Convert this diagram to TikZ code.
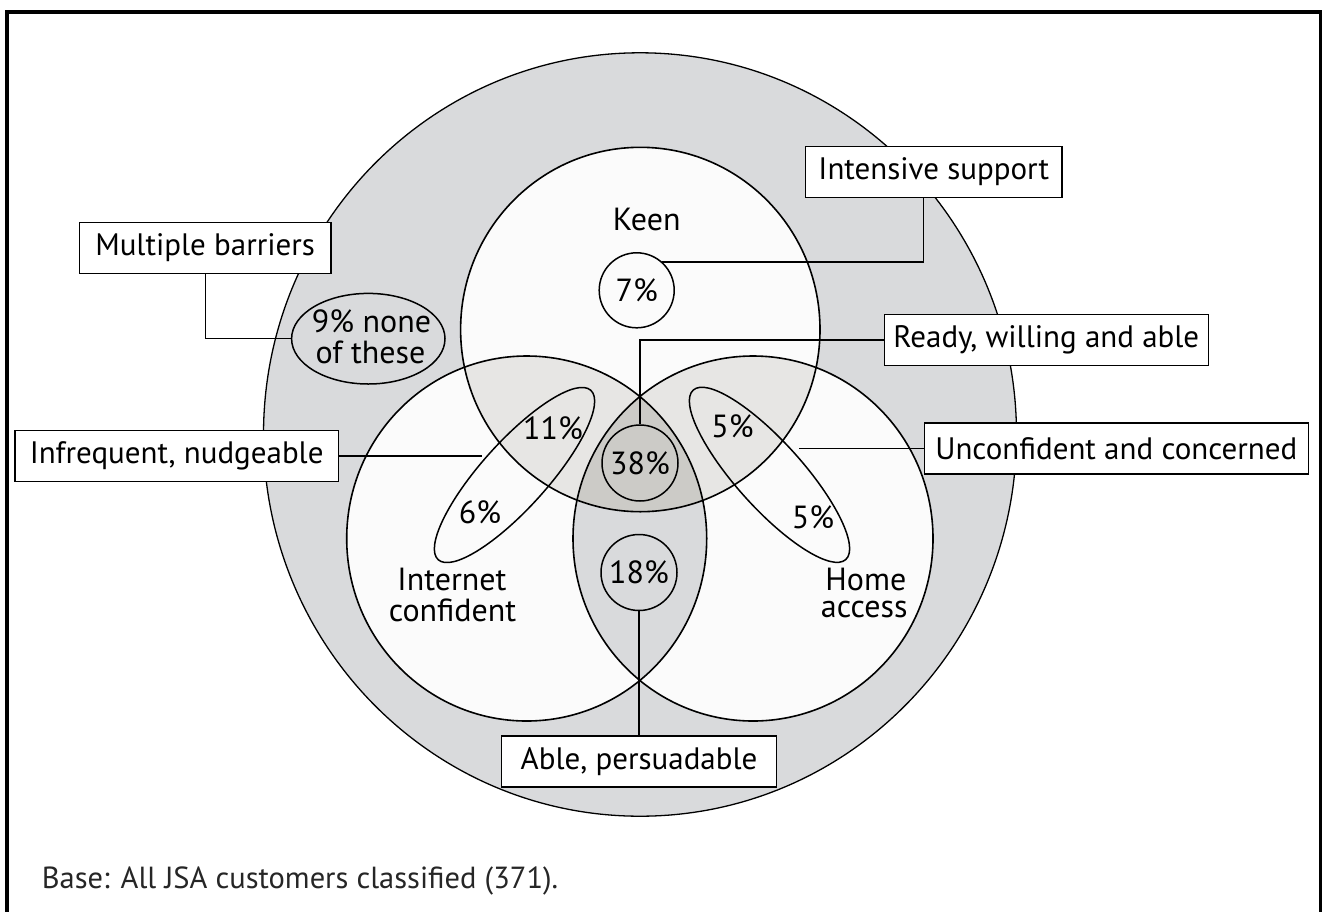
\documentclass[tikz,border=0pt]{standalone}
\usepackage{fontspec}
\setmainfont{PT Sans}
\usetikzlibrary{shapes.geometric}
\definecolor{outerg}{HTML}{D9DADC}
\definecolor{innerw}{HTML}{FBFBFB}
\definecolor{pairg}{HTML}{E7E6E4}
\definecolor{tripg}{HTML}{CCCBC7}
\begin{document}
\begin{tikzpicture}[x=1pt,y=-1pt,
  bigc/.style={insert path={(640,434.5) ellipse [x radius=376.5pt, y radius=381.7pt]}},
  keenc/.style={insert path={(640.3,329.5) ellipse [x radius=179.7pt, y radius=182.2pt]}},
  icc/.style={insert path={(526.7,538.5) ellipse [x radius=180pt, y radius=182.5pt]}},
  hac/.style={insert path={(753,538.5) ellipse [x radius=180pt, y radius=182.5pt]}},
  outl/.style={draw=black, line width=1.6pt},
  pc/.style={circle, draw=black, line width=1.5pt, inner sep=0pt, font=\fontsize{32}{38}\selectfont},
  ell/.style={ellipse, draw=black, line width=1.5pt, inner sep=0pt},
  lab/.style={inner sep=0pt, anchor=base, font=\fontsize{32}{38}\selectfont},
  lbox/.style={rectangle, draw=black, line width=1.5pt, fill=white, inner sep=0pt, minimum height=51pt, font=\fontsize{31}{37}\selectfont},
  conn/.style={draw=black, line width=1.3pt}
]
\useasboundingbox (0,0) rectangle (1322,911);
\fill[white] (0,0) rectangle (1322,911);
% frame
\draw[line width=4pt] (7,915) -- (7,11.5) -- (1320.5,11.5) -- (1320.5,915);
% big circle
\fill[outerg, bigc];
\draw[line width=1.3pt, bigc];
% inner circles
\fill[innerw, keenc];
\fill[innerw, icc];
\fill[innerw, hac];
\begin{scope}
  \clip[keenc];
  \fill[pairg, icc];
  \fill[pairg, hac];
\end{scope}
\begin{scope}
  \clip[icc];
  \fill[outerg, hac];
\end{scope}
\begin{scope}
  \clip[keenc];
  \clip[icc];
  \fill[tripg, hac];
\end{scope}
\path[outl, keenc];
\path[outl, icc];
\path[outl, hac];
% inner shapes
\node[pc, minimum size=75pt] (p7) at (636.7,290.3) {7\%};
\node[pc, minimum size=76pt] (p38) at (640,463) {38\%};
\node[pc, minimum size=76pt] (p18) at (639,572.5) {18\%};
\node[ell, minimum width=153.4pt, minimum height=90.6pt] (p9) at (368.3,338.7) {};
\node[ell, minimum width=228pt, minimum height=66pt, rotate=48] (lell) at (514.5,475) {};
\node[ell, minimum width=228pt, minimum height=66pt, rotate=-48] (rell) at (769.5,474.8) {};
% labels
\node[lab] (t9a) at (371.5,332.7) {9\% none};
\node[lab] (t9b) at (370.5,363.3) {of these};
\node[lab] (tkeen) at (646.7,230) {Keen};
\node[lab] (tint1) at (452,590) {Internet};
\node[lab] (tint2) at (452.5,621.7) {confident};
\node[lab] (thome1) at (865.8,590) {Home};
\node[lab] (thome2) at (864.2,617) {access};
\node[lab] (t11) at (553,439.3) {11\%};
\node[lab] (t6) at (480,523.3) {6\%};
\node[lab] (t5a) at (732.5,437.7) {5\%};
\node[lab] (t5b) at (813,528.3) {5\%};
% boxes
\node[lbox, minimum width=251.7pt] (mb) at (205.15,248) {Multiple barriers};
\node[lbox, minimum width=256.3pt] (is) at (933.85,172) {Intensive support};
\node[lbox, minimum width=324pt] (rw) at (1046.3,340) {Ready, willing and able};
\node[lbox, minimum width=323.3pt] (inf) at (176.65,455.85) {Infrequent, nudgeable};
\node[lbox, minimum width=384pt] (uc) at (1116.3,448.3) {Unconfident and concerned};
\node[lbox, minimum width=275.3pt] (ap) at (639,761.35) {Able, persuadable};
% connectors
\coordinate (infend) at (481.7,455.85);
\coordinate (ucend) at (799.3,448.3);
\draw[conn] ([xshift=-10.55pt]is.south) |- (p7.48);
\draw[conn] (rw.west) -| (p38.north);
\draw[conn] (mb.south) |- (p9.west);
\draw[conn] (inf.east) -- (infend);
\draw[conn] (uc.west) -- (ucend);
\draw[conn] (p18.south) -- (ap.north);
% base note
\node[inner sep=0pt, anchor=base west, text=black!85, font=\fontsize{30.5}{36}\selectfont] (base) at (41.7,888.3) {Base: All JSA customers classified (371).};
\end{tikzpicture}
\end{document}
